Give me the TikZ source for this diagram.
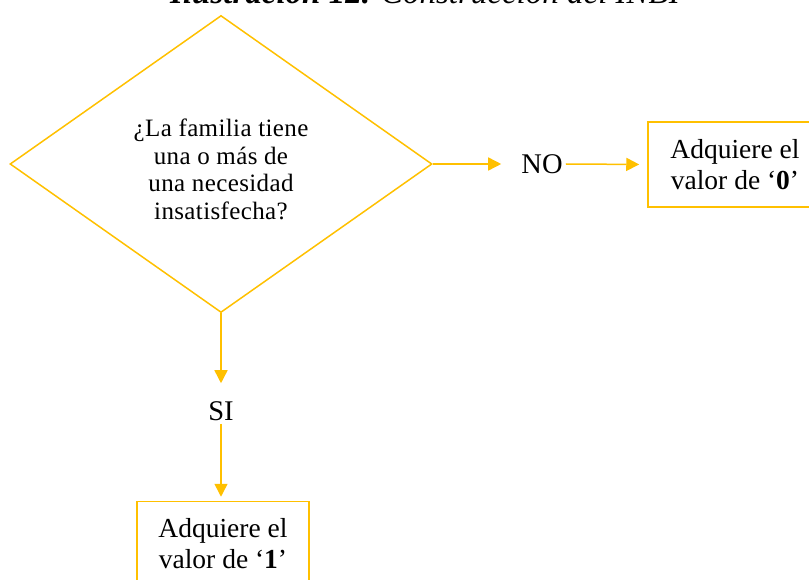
\documentclass[tikz,border=0pt]{standalone}
\usepackage{fontspec}
\setmainfont{Liberation Serif}
\usetikzlibrary{arrows.meta,shapes.geometric,positioning}
\definecolor{gold}{HTML}{FFC000}
\tikzset{arrows={-{Triangle[length=13pt,width=13pt]}}}
\tikzset{
  decision/.style={diamond, draw=gold, line width=1.5pt, inner sep=0pt,
    minimum width=422pt, minimum height=297pt},
  asktext/.style={align=center,
    font=\fontsize{25}{27.5}\selectfont\addfontfeature{LetterSpace=1.5}},
  result/.style={rectangle, draw=gold, line width=1.5pt, align=center,
    minimum width=174pt, minimum height=85pt,
    font=\fontsize{27.5}{31}\selectfont},
  answer/.style={inner sep=3pt, font=\fontsize{28.5}{30}\selectfont},
  flow/.style={draw=gold, fill=gold, line width=1.5pt}
}

\begin{document}
\begin{tikzpicture}[x=1pt, y=-1pt]
    \useasboundingbox (0,0) rectangle (809,580);
    \clip (0,0) rectangle (809,580);
    \node[anchor=base west, inner sep=0pt, font=\fontsize{33}{36}\selectfont\itshape] (title) at (170,4)
      {\textbf{Ilustración 12.} Construcción del INBI};
    \node[decision, label={[asktext, yshift=-5.5pt]center:¿La familia tiene\\una o más de\\una necesidad\\insatisfecha?}] (ask) at (221,164) {};
    \node[answer] (no) at (542,164) {NO};
    \node[result] (zero) at (735,164.5) {Adquiere el\\valor de ‘\textbf{0}’};
    \node[answer] (si) at (221,411) {SI};
    \node[result, minimum width=172pt] (one) at (223,544) {Adquiere el\\valor de ‘\textbf{1}’};
    \path (ask.east) edge[flow, shorten >=17pt] (no.west)
          (no.east) edge[flow, shorten >=8pt] (zero.west)
          (ask.south) edge[flow, shorten >=15pt] (si.north)
          (si.south) edge[flow, shorten >=4pt] (si.south |- one.north);
\end{tikzpicture}
\end{document}
